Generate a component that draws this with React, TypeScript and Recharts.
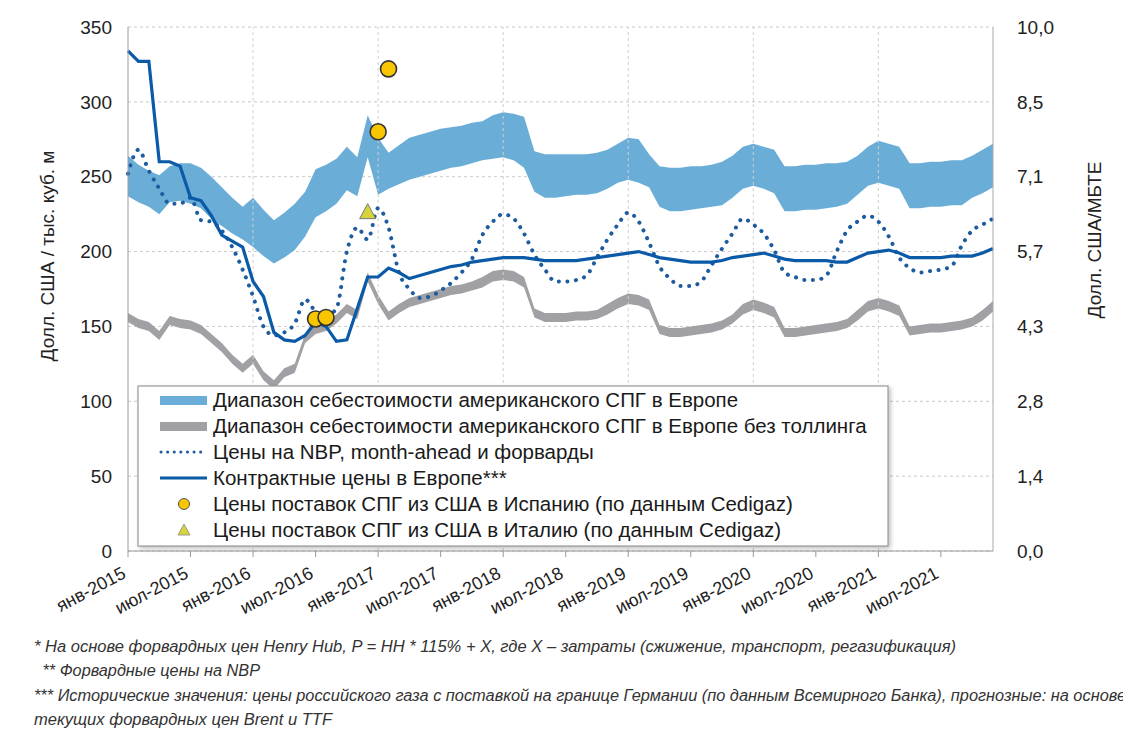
import React from 'react';
import { ComposedChart, Area, Line, Scatter, XAxis, YAxis, CartesianGrid, ReferenceLine } from 'recharts';

// monthly, Jan 2015 .. Dec 2021 (index 0..83)
const blueHigh = [264,258,254,251,257,259,259,256,250,243,236,230,236,228,221,226,232,240,255,258,262,270,263,291,276,266,271,276,278,280,282,283,284,286,287,291,293,292,290,267,265,265,265,265,265,266,268,272,276,275,265,257,256,256,257,257,258,260,264,270,272,270,268,257,257,258,258,259,259,260,264,270,274,272,270,259,259,260,260,261,261,264,268,272];
const blueLow = [237,233,230,225,233,234,232,229,222,217,212,208,203,197,192,196,201,210,223,227,232,241,237,263,238,242,245,248,250,252,254,256,257,259,261,262,263,261,256,240,236,236,237,238,238,239,242,246,248,246,243,230,227,227,228,229,230,231,236,242,244,242,239,227,227,228,228,229,230,232,238,244,246,244,242,229,229,230,230,231,231,236,239,243];
const grayLow = [153,149,147,141,151,149,148,145,139,133,125,119,125,114,108,116,119,139,145,147,152,159,155,180,165,154,159,163,165,167,169,171,172,174,176,180,181,180,176,156,153,153,153,154,154,155,158,162,165,164,161,145,143,143,144,145,146,148,152,158,161,159,156,143,143,144,145,146,147,149,154,160,162,160,157,144,145,146,146,147,148,150,154,160];
const grayHigh = [159,155,153,147,157,155,154,151,145,139,131,125,131,120,114,122,125,145,151,153,158,165,161,186,171,160,165,169,171,173,175,177,178,180,183,187,188,187,183,162,159,159,159,160,160,161,165,169,172,171,168,151,149,149,150,151,152,154,158,165,168,166,163,149,149,150,151,152,153,155,161,167,169,167,164,150,151,152,152,153,154,156,161,167];
const nbp = [252,268,254,242,232,232,236,221,220,214,203,188,170,150,144,146,152,168,160,157,162,200,216,208,229,216,186,175,169,170,174,179,186,195,211,220,225,222,212,198,188,180,180,181,184,196,208,218,226,220,206,190,182,177,177,180,191,202,212,222,218,212,201,186,183,181,181,184,200,214,220,224,220,210,196,189,186,187,188,190,204,214,218,222];
const contract = [334,327,327,260,260,257,236,234,224,211,207,203,180,170,146,141,140,144,153,150,140,141,162,183,183,189,186,182,184,186,188,190,191,193,194,195,196,196,196,195,194,194,194,194,195,196,197,198,199,200,198,196,195,194,193,193,193,194,196,197,198,199,197,195,194,194,194,194,193,193,196,199,200,201,199,196,196,196,196,197,197,197,199,202];

const spainMonths = [18, 19, 24, 25];
const spainValues = [155, 156, 280, 322];
const italyMonths = [23];
const italyValues = [226];

const xTicks = [0, 6, 12, 18, 24, 30, 36, 42, 48, 54, 60, 66, 72, 78];
const xTickLabels = ['янв-2015', 'июл-2015', 'янв-2016', 'июл-2016', 'янв-2017', 'июл-2017', 'янв-2018', 'июл-2018', 'янв-2019', 'июл-2019', 'янв-2020', 'июл-2020', 'янв-2021', 'июл-2021'];
const yearStarts = [12, 24, 36, 48, 60, 72];
const leftTicks = [0, 50, 100, 150, 200, 250, 300, 350];
const rightTickLabels = ['0,0', '1,4', '2,8', '4,3', '5,7', '7,1', '8,5', '10,0'];

const legendItems = [
  'Диапазон себестоимости американского СПГ в Европе',
  'Диапазон себестоимости американского СПГ в Европе без толлинга',
  'Цены на NBP, month-ahead и форварды',
  'Контрактные цены в Европе***',
  'Цены поставок СПГ из США в Испанию (по данным Cedigaz)',
  'Цены поставок СПГ из США в Италию (по данным Cedigaz)',
];

const notes = [
  '* На основе форвардных цен Henry Hub, P = HH * 115% + X, где X – затраты (сжижение, транспорт, регазификация)',
  ' ** Форвардные цены на NBP',
  '*** Исторические значения: цены российского газа с поставкой на границе Германии (по данным Всемирного Банка), прогнозные: на основе',
  'текущих форвардных цен Brent и TTF',
];

const BLUE_BAND = '#6aaed8';
const GRAY_BAND = '#a0a0a5';
const CONTRACT = '#0b5aa7';
const NBP = '#1d5c9f';
const FONT = '"Liberation Sans", Arial, sans-serif';

const data = blueHigh.map((_, i) => ({
  idx: i,
  blue: [blueLow[i], blueHigh[i]],
  gray: [grayLow[i], grayHigh[i]],
  nbp: nbp[i],
  contract: contract[i],
}));
const spain = spainMonths.map((m, i) => ({ idx: m, v: spainValues[i] }));
const italy = italyMonths.map((m, i) => ({ idx: m, v: italyValues[i] }));

const XTick = (props: any) => {
  const { x, y, payload } = props;
  const label = xTickLabels[xTicks.indexOf(payload.value)];
  const tx = x - 1;
  const ty = y + 18;
  return (
    <text x={tx} y={ty} transform={`rotate(-28 ${tx} ${ty})`} textAnchor="end"
      fontSize={18} fill="#222" fontFamily={FONT}>{label}</text>
  );
};

const Circle = (props: any) => (
  <circle cx={props.cx} cy={props.cy} r={8} fill="#f7c600" stroke="#333" strokeWidth={1.6} />
);
const Triangle = (props: any) => {
  const { cx, cy } = props;
  return <polygon points={`${cx},${cy - 9} ${cx + 8},${cy + 6} ${cx - 8},${cy + 6}`} fill="#d6d43a" stroke="#777" strokeWidth={1} />;
};

export default function App() {
  return (
    <div style={{ margin: -8, width: 1131, height: 736, position: 'relative', overflow: 'hidden', background: '#fff', fontFamily: FONT }}>
      <div style={{ position: 'absolute', left: 0, top: 0 }}>
        <ComposedChart width={1131} height={620} data={data} margin={{ top: 27, right: 0, left: 0, bottom: 0 }}>
          <CartesianGrid yAxisId="left" vertical={false} stroke="#c9c9c9" strokeDasharray="3 3" />
          {yearStarts.map((m) => (
            <ReferenceLine key={m} yAxisId="left" x={m} stroke="#cfcfcf" strokeDasharray="3 3" />
          ))}
          <XAxis type="number" dataKey="idx" domain={[0, 83]} ticks={xTicks} interval={0} height={69}
            axisLine={{ stroke: '#999' }} tickLine={{ stroke: '#999' }} tick={<XTick />} />
          <YAxis yAxisId="left" domain={[0, 350]} ticks={leftTicks} width={128} tickMargin={10}
            axisLine={{ stroke: '#999' }} tickLine={false} interval={0}
            tick={{ fontSize: 19, fill: '#222', fontFamily: FONT }} />
          <YAxis yAxisId="right" orientation="right" domain={[0, 350]} ticks={leftTicks} width={138} tickMargin={18}
            axisLine={{ stroke: '#aaa' }} tickLine={false} interval={0}
            tickFormatter={(v: number) => rightTickLabels[leftTicks.indexOf(Number(v))]}
            tick={{ fontSize: 19, fill: '#222', fontFamily: FONT, textAnchor: 'start' }} />
          <Area yAxisId="left" dataKey="blue" type="linear" stroke="none" fill={BLUE_BAND} fillOpacity={1}
            isAnimationActive={false} dot={false} activeDot={false} />
          <Area yAxisId="left" dataKey="gray" type="linear" stroke="none" fill={GRAY_BAND} fillOpacity={1}
            isAnimationActive={false} dot={false} activeDot={false} />
          <Line yAxisId="left" dataKey="nbp" type="monotone" stroke={NBP} strokeWidth={4} strokeDasharray="0.1 8.5"
            strokeLinecap="round" dot={false} activeDot={false} isAnimationActive={false} />
          <Line yAxisId="left" dataKey="contract" type="linear" stroke={CONTRACT} strokeWidth={3.2}
            dot={false} activeDot={false} isAnimationActive={false} />
          {/* invisible copy so the right-hand axis gets drawn (same 0-350 scale) */}
          <Line yAxisId="right" dataKey="contract" stroke="none" strokeWidth={0}
            dot={false} activeDot={false} isAnimationActive={false} />
          <Scatter yAxisId="left" data={spain} dataKey="v" shape={<Circle />} isAnimationActive={false} />
          <Scatter yAxisId="left" data={italy} dataKey="v" shape={<Triangle />} isAnimationActive={false} />
        </ComposedChart>
      </div>

      <svg width={1131} height={736} style={{ position: 'absolute', left: 0, top: 0, pointerEvents: 'none' }}>
        <text transform="translate(54 256) rotate(-90)" textAnchor="middle" fontSize={19} fill="#222" fontFamily={FONT}>
          Долл. США / тыс. куб. м
        </text>
        <text transform="translate(1101 240) rotate(-90)" textAnchor="middle" fontSize={19} fill="#222" fontFamily={FONT}>
          Долл. США/МБТЕ
        </text>

        <rect x={138} y={386} width={750} height={160} fill="#fff" stroke="#9a9a9a" strokeWidth={1.2}
          style={{ filter: 'drop-shadow(2px 2px 2px rgba(0,0,0,0.25))' }} />
        {legendItems.map((t, i) => {
          const cy = 400 + i * 26;
          let icon: React.ReactNode = null;
          if (i === 0) icon = <rect x={160} y={cy - 4} width={47} height={9} fill={BLUE_BAND} />;
          if (i === 1) icon = <rect x={160} y={cy - 4} width={47} height={9} fill={GRAY_BAND} />;
          if (i === 2) icon = <line x1={161} x2={206} y1={cy} y2={cy} stroke={NBP} strokeWidth={3} strokeDasharray="0.1 6.5" strokeLinecap="round" />;
          if (i === 3) icon = <line x1={160} x2={207} y1={cy} y2={cy} stroke={CONTRACT} strokeWidth={3} />;
          if (i === 4) icon = <circle cx={184} cy={cy} r={5.5} fill="#f7c600" stroke="#555" strokeWidth={1} />;
          if (i === 5) icon = <polygon points={`184,${cy - 6} 190,${cy + 5} 178,${cy + 5}`} fill="#d6d43a" stroke="#888" strokeWidth={0.8} />;
          return (
            <g key={i}>
              {icon}
              <text x={213} y={cy + 7} fontSize={20.5} fill="#1a1a1a" fontFamily={FONT}>{t}</text>
            </g>
          );
        })}

        {notes.map((t, i) => {
          const lengths = [922, 222, 1092, 298];
          return (
            <text key={i} x={i === 1 ? 38 : 34} y={652 + i * 24.3} fontSize={16} fontStyle="italic" fill="#333"
              fontFamily={FONT} textLength={lengths[i]} lengthAdjust="spacingAndGlyphs" style={{ whiteSpace: 'pre' }}>
              {t}
            </text>
          );
        })}
      </svg>
    </div>
  );
}
